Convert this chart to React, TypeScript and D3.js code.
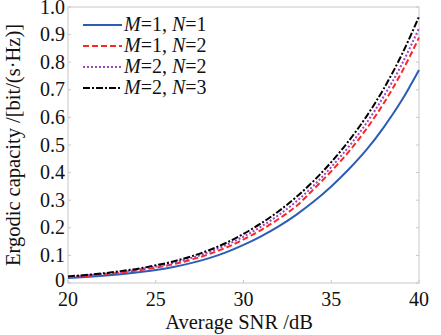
import React from "react";
import * as d3 from "d3";

const snr = [20,21,22,23,24,25,26,27,28,29,30,31,32,33,34,35,36,37,38,39,40];
const m1n1 = [0.018,0.0218,0.0264,0.032,0.0388,0.047,0.0582,0.0721,0.0893,0.111,0.138,0.169,0.205,0.247,0.295,0.35,0.412,0.482,0.565,0.66,0.772];
const m1n2 = [0.021,0.0256,0.031,0.0377,0.0457,0.0555,0.068,0.084,0.104,0.128,0.158,0.192,0.232,0.278,0.34,0.405,0.476,0.558,0.652,0.762,0.889];
const m2n2 = [0.023,0.0275,0.033,0.04,0.049,0.0595,0.073,0.09,0.111,0.137,0.168,0.204,0.246,0.295,0.353,0.42,0.494,0.579,0.677,0.79,0.923];
const m2n3 = [0.024,0.029,0.035,0.043,0.052,0.064,0.078,0.096,0.118,0.145,0.178,0.216,0.26,0.311,0.37,0.438,0.515,0.603,0.705,0.825,0.965];
const xTicks = [20,25,30,35,40];
const yTicks = [0,0.1,0.2,0.3,0.4,0.5,0.6,0.7,0.8,0.9,1.0];
const seriesM = ["1","1","2","2"];
const seriesN = ["1","2","2","3"];
const colors = ["#2c5db5","#ff2626","#a044c0","#000000"];
const dashes = ["", "6,3", "2,2", "7,2,2,2"];

export default function App() {
  const W = 441, H = 335;
  const L = 68, R = 419, T = 7, B = 283;
  const x = d3.scaleLinear().domain([20, 40]).range([L, R]);
  const y = d3.scaleLinear().domain([0, 1]).range([B, T]);
  const data = [m1n1, m1n2, m2n2, m2n3];
  const line = d3.line<number>().x((_, i) => x(snr[i])).y((d) => y(d)).curve(d3.curveMonotoneX);
  const font = "'Liberation Serif', 'Times New Roman', serif";
  return (
    <svg width={W} height={H} style={{ position: "absolute", left: 0, top: 0, background: "#fff" }}>
      <rect x={L} y={T} width={R - L} height={B - T} fill="none" stroke="#c8c8c8" strokeWidth={1} />
      {xTicks.map((t) => (
        <g key={"x" + t}>
          <line x1={x(t)} x2={x(t)} y1={B} y2={B - 3} stroke="#c8c8c8" />
          <text x={x(t)} y={305.5} textAnchor="middle" fontFamily={font} fontSize={20} fill="#111">{t}</text>
        </g>
      ))}
      {yTicks.map((t) => (
        <g key={"y" + t}>
          <line x1={L} x2={L + 3} y1={y(t)} y2={y(t)} stroke="#c8c8c8" />
          <line x1={R} x2={R - 3} y1={y(t)} y2={y(t)} stroke="#c8c8c8" />
          <text x={65} y={y(t) + (t === 0 ? 4 : 6.5)} textAnchor="end" fontFamily={font} fontSize={20} fill="#111">{t === 0 ? "0" : t.toFixed(1)}</text>
        </g>
      ))}
      {data.map((d, i) => (
        <path key={i} d={line(d) || ""} fill="none" stroke={colors[i]} strokeWidth={2} strokeDasharray={dashes[i]} />
      ))}
      {data.map((_, i) => (
        <g key={"lg" + i}>
          <line x1={83} x2={122} y1={25 + i * 21} y2={25 + i * 21} stroke={colors[i]} strokeWidth={2} strokeDasharray={dashes[i]} />
          <text x={124} y={31 + i * 21} fontFamily={font} fontSize={20} fill="#111">
            <tspan fontStyle="italic">M</tspan>=<tspan>{seriesM[i]}</tspan>, <tspan fontStyle="italic">N</tspan>=<tspan>{seriesN[i]}</tspan>
          </text>
        </g>
      ))}
      <text x={239} y={328.5} textAnchor="middle" fontFamily={font} fontSize={20.5} fill="#111">Average SNR /dB</text>
      <text transform={`translate(20,${(T + B) / 2}) rotate(-90)`} textAnchor="middle" fontFamily={font} fontSize={20.5} fill="#111">Ergodic capacity /[bit/(s·Hz)]</text>
    </svg>
  );
}
